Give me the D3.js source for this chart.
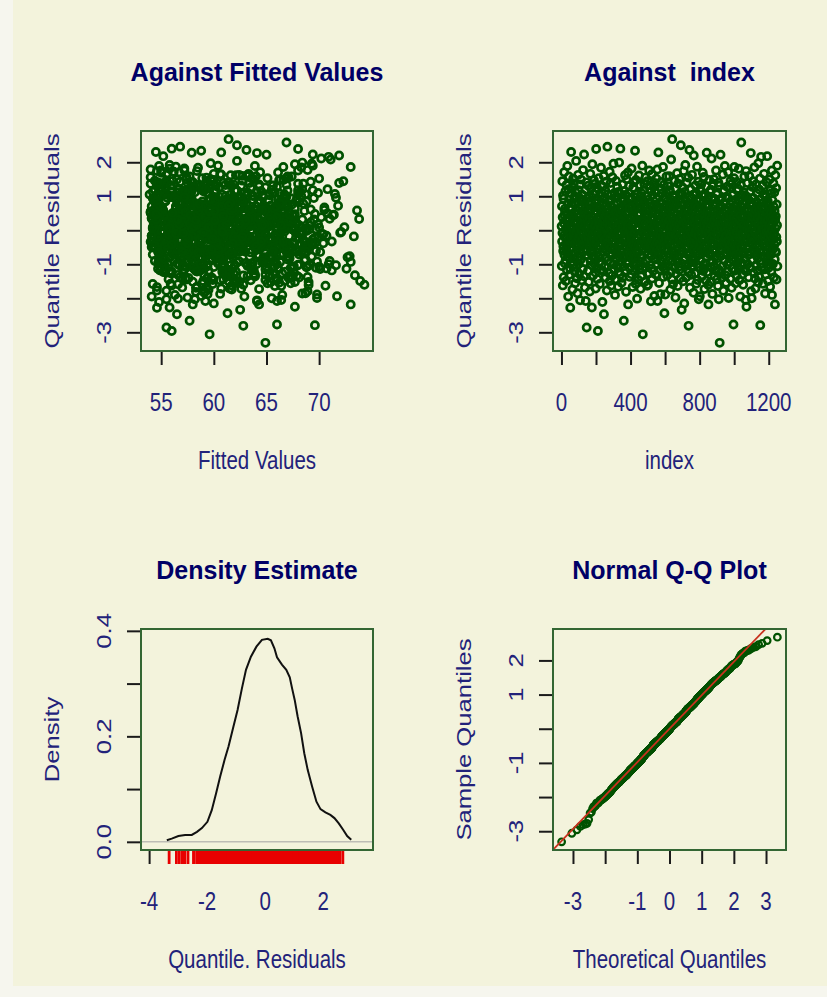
<!DOCTYPE html>
<html>
<head>
<meta charset="utf-8">
<script src="https://cdn.jsdelivr.net/npm/d3@7"></script>
<style>
  html, body { margin: 0; padding: 0; background: #f6f6ee; }
  svg { display: block; }
  text { font-family: "Liberation Sans", Arial, sans-serif; white-space: pre; }
</style>
</head>
<body>
<div id="chart"></div>
<script>
// quantile residuals in index order (10 per row)
var quantileResiduals = [
  0.12, -1.05, 0.71, -0.33, 1.44, -0.08, 0.38, -1.62, 1.02, -0.61,
  -0.47, 0.93, -1.38, 0.21, -0.15, 1.71, -0.72, 0.44, -0.97, 0.63,
  0.55, -0.21, 1.15, -0.88, 0.03, -1.49, 0.29, -0.56, 1.33, -0.39,
  -1.17, 0.47, -0.02, 1.89, -0.66, 0.17, -0.43, 0.79, -1.95, 1.21,
  0.33, -0.79, 1.58, -0.27, 0.09, -1.31, 0.68, -0.12, 0.91, -1.12,
  -2.28, 0.61, -0.36, 1.09, -0.94, 2.30, 0.14, -0.19, 0.42, -0.71,
  0.81, -0.52, 0.06, -1.74, 1.26, -0.29, 0.35, 1.52, -1.01, -0.09,
  -0.18, 1.38, -0.84, 0.50, -0.41, 0.98, -1.22, 0.22, -1.56, 0.76,
  1.12, -0.64, 0.27, -0.05, 2.04, -1.09, 0.58, -0.46, -1.41, 0.19,
  -0.31, 0.02, -1.85, 0.83, -0.77, 0.49, 1.63, -0.23, 1.18, -0.99,
  0.66, -1.28, 0.40, -0.14, 0.95, -0.58, 1.35, -2.06, 0.08, -0.37,
  -0.87, 0.24, 1.49, -0.69, -0.03, 0.72, -1.47, 0.31, -0.26, 1.05,
  0.17, -0.42, 0.89, -1.14, 1.77, -0.11, 0.53, -0.62, 0.36, -1.35,
  2.23, -0.95, 0.11, -0.35, 0.64, -1.68, 0.46, -0.20, 1.19, -0.55,
  -2.08, 0.70, -0.30, 1.41, 0.05, -2.86, 0.93, -0.60, 0.26, -0.16,
  -0.73, 0.44, -1.19, 0.13, 1.31, -0.24, 0.85, -1.52, 0.59, -0.40,
  0.98, -0.07, 0.34, -1.80, 0.75, -0.48, 1.66, -0.90, 0.20, -0.67,
  0.04, 1.22, -0.34, 0.62, -1.03, -2.27, 0.39, -0.13, 1.94, -0.76,
  -0.57, 0.28, -1.33, 1.07, -0.22, 0.67, -0.44, 1.47, 0.10, -0.98,
  1.36, -0.81, 0.15, -0.04, 0.48, -1.24, 0.80, -1.71, -0.38, 1.14,
  2.39, -0.32, 0.57, -1.10, 0.01, -0.65, 1.24, -1.43, 0.37, -0.17,
  -2.96, 0.88, -0.09, 0.30, -0.78, 1.53, -0.45, 0.18, -0.92, 0.66,
  0.43, -1.58, 0.74, -0.25, 1.01, -0.70, 0.07, -1.16, 1.84, -0.10,
  -0.39, 1.11, -0.99, 0.60, -0.14, 0.23, -2.11, 0.50, 1.29, -0.63,
  0.79, -0.20, 0.32, -1.21, 1.60, -2.47, 0.09, -0.53, 0.96, -0.28,
  -1.07, 0.14, -0.46, 1.17, -1.39, 0.41, 0.71, -0.01, 1.43, -0.80,
  -0.60, 0.52, -1.77, 0.20, -0.06, 2.46, -0.36, 1.06, -0.89, 0.34,
  0.63, -0.15, 0.86, -0.43, 0.31, -1.26, 0.12, -0.68, 1.72, -1.49,
  -0.24, 0.45, -0.94, 1.39, -0.51, 0.03, 0.69, -1.62, 1.03, -0.74,
  0.90, -1.34, 0.22, -0.71, 1.56, -0.31, 0.39, -0.12, 0.59, -1.00,
  1.96, -0.58, 0.16, -1.13, 0.77, -0.40, 1.10, -0.02, 0.47, -1.90,
  -0.35, 0.29, -1.44, 0.54, -0.19, 1.45, -0.85, 0.06, 0.99, -0.59,
  0.11, -0.69, 1.28, -0.27, 0.82, -1.08, 0.36, -1.66, -0.05, 1.13,
  -1.23, 0.61, -0.10, 1.99, -0.47, 0.19, -0.79, 0.42, 1.08, -1.30,
  2.40, -0.13, 0.49, -0.93, 0.25, -0.37, 0.94, -1.54, 0.66, -0.64,
  0.58, -1.40, 0.07, -0.55, 1.35, -0.21, 0.32, -1.06, 0.85, -0.30,
  -2.66, 0.40, -0.82, 1.16, -0.04, 0.73, -0.48, 1.62, 0.15, -1.18,
  0.26, -0.26, 1.04, -1.81, 0.53, -0.12, 1.50, -0.66, -0.96, 0.09,
  -0.90, 0.18, -0.39, 0.81, 1.70, -2.18, 0.48, -0.07, 1.10, -0.62,
  1.30, -0.45, 0.64, -1.11, 0.00, -1.37, 0.29, -0.75, 0.92, -0.18,
  -0.54, 0.96, -0.16, 0.35, -1.29, 1.82, -0.33, 0.13, 0.56, -0.86,
  0.70, -1.67, 0.21, -0.42, 1.25, -0.11, 0.44, -0.73, 1.41, -1.02,
  -0.08, 0.37, -1.20, 0.60, -0.50, 2.34, -0.84, 0.20, 0.97, -1.58,
  1.48, -0.29, 0.05, -0.95, 0.76, -0.60, 0.30, -2.01, 1.07, -0.19,
  -0.67, 0.67, -0.23, 0.51, -1.46, 0.10, -0.41, 0.87, 1.61, -1.15,
  0.23, -1.04, 0.45, -0.14, 1.33, -0.47, 0.80, -1.72, 1.01, -0.71,
  -1.36, 0.62, -0.33, 1.09, -0.04, 0.27, -0.80, 1.90, -1.13, 0.16,
  -3.06, 0.34, 1.17, -0.56, 0.08, -0.97, 0.73, -0.20, 1.37, -0.38,
  0.84, -0.12, -1.51, 0.41, -0.63, 1.55, 0.19, -0.44, -1.09, 0.65,
  -0.21, 1.00, -0.88, 0.14, 0.57, -1.63, 1.44, -0.31, 0.38, -0.52,
  -1.60, 0.47, -0.09, 0.90, -0.69, 0.22, -1.27, 1.76, -0.34, 0.60,
  0.12, -0.45, 1.32, -1.03, 0.78, -0.17, 0.31, -2.09, 1.15, -0.77,
  -1.12, 0.55, -0.27, 1.65, -1.42, 0.06, 1.04, -0.61, 0.33, -0.01,
  0.38, -1.19, 0.70, -0.06, 1.27, -0.49, 0.18, -1.93, 1.39, -0.65,
  -0.44, 1.14, 0.02, -0.86, 0.51, -1.30, -0.15, 0.75, 1.52, -0.57,
  0.91, -0.37, 0.26, -0.99, 1.79, -2.08, 0.63, -0.10, 0.13, -0.72,
  2.29, -0.25, -0.74, 0.43, -1.55, 0.99, 0.07, -0.40, 0.68, -1.16,
  -0.13, 0.82, -1.88, 0.29, -0.53, 1.42, -0.92, 0.16, 1.21, -0.32,
  0.54, -0.68, 1.08, -0.18, 0.36, -1.08, -0.46, 1.86, 0.01, -1.37,
  -0.79, 0.20, 1.34, -0.35, 0.95, -2.44, 0.49, -1.14, 0.71, -0.07,
  -1.89, 0.59, -0.22, 0.32, -0.99, 1.12, -0.43, 1.58, 0.11, -0.60,
  0.44, -1.33, 0.85, -0.55, 0.17, -0.14, 1.30, -0.89, 0.64, -0.37,
  -1.05, 0.28, -0.30, 1.59, -0.70, 0.74, -0.02, 1.18, 0.05, -1.75,
  0.68, -0.48, 0.10, -1.22, 2.08, -0.19, 0.40, -0.64, 0.89, -1.45,
  2.68, -0.91, 0.35, -0.08, 0.61, -1.59, 1.02, -0.41, 0.14, -0.66,
  -0.28, 0.08, 0.97, -0.76, 1.46, -1.10, 0.70, -0.16, 0.30, -1.98,
  1.23, -0.58, 0.21, -1.28, 0.47, -0.36, 0.79, -0.05, 1.68, -0.94,
  -0.46, 0.65, -1.64, 0.04, -0.83, 1.37, 0.37, -0.22, 0.92, -1.07,
  0.19, -1.17, 1.51, -0.29, 0.57, -0.71, 1.09, -1.41, 0.33, -0.11,
  2.50, -0.40, 0.82, -0.98, 0.12, -2.34, 0.42, -0.13, 1.06, -0.59,
  -0.63, 1.26, -0.04, 0.39, -1.50, 0.24, -0.34, 1.74, -0.87, 0.77,
  -2.15, 0.62, -0.24, 1.13, 0.02, -0.80, 1.92, -0.49, 0.29, -1.01,
  0.87, -1.39, 0.15, -0.54, 1.40, -0.08, 0.46, -1.15, 0.66, -0.31,
  -0.18, 0.34, -0.73, 1.55, 0.58, -2.81, -1.24, 0.09, 0.99, -0.39,
  2.36, -0.66, 0.17, -1.69, 0.73, -0.06, 0.41, -0.95, 1.20, -0.33,
  -1.31, 0.95, -0.42, 0.27, -0.12, 1.63, -0.77, 0.06, 0.60, -1.04,
  0.48, -0.89, 1.05, -0.21, -1.84, 2.20, -0.57, 0.22, 0.81, -0.36,
  -0.09, 0.72, -1.27, 0.39, -0.47, 1.32, 0.00, -0.69, 1.11, -1.57,
  0.30, -0.32, 0.90, -1.00, 1.87, -0.61, 0.13, -1.46, 0.67, -0.15,
  -0.74, 1.43, -0.17, 0.56, -2.03, 0.08, -0.44, 0.86, 0.35, -1.09,
  -1.94, 0.26, 1.21, -0.38, 0.64, -0.90, 0.11, -0.11, 1.35, -0.58,
  0.61, -0.07, -1.36, 0.44, -0.68, 1.00, -0.29, 1.69, 0.18, -1.20,
  -0.51, 0.14, 0.83, -1.13, 1.57, -0.23, 0.38, -1.73, 1.07, -0.62,
  1.02, -0.97, 0.32, -0.03, -0.45, 0.69, -1.48, 1.29, 0.20, -0.79,
  2.28, -0.35, 0.53, -1.23, 0.10, -0.60, 0.93, -0.19, 0.28, -1.61,
  -2.18, 0.76, -0.13, 0.42, -0.70, 1.48, -0.30, 0.03, 1.13, -0.95,
  0.07, -1.52, 0.59, -0.27, 1.19, -0.72, 0.35, -1.10, 2.11, -0.05,
  -0.40, 0.96, -0.02, -1.87, 0.48, -0.92, 1.37, 0.21, 0.74, -0.56,
  0.73, -0.14, 1.50, -1.05, 0.31, -0.41, -1.35, 0.92, 0.05, -0.78,
  -1.18, 0.40, -0.64, 0.16, 1.76, -0.08, 0.80, -0.33, 1.05, -1.44,
  0.35, -0.12, 1.10, -0.82, 0.57, -1.64, 0.00, -0.47, 1.40, -1.15,
  -2.03, 0.46, -0.37, 1.31, 0.19, -3.31, 0.88, -0.61, -0.04, 0.64,
  2.22, -0.76, 0.09, -1.25, 0.70, -0.20, 0.43, -1.40, 0.95, -0.42,
  -0.55, 0.22, -1.06, 1.64, -0.10, 0.51, -1.78, 1.15, -0.31, 0.80,
  1.18, -0.43, 0.29, -0.89, 0.02, 1.89, -0.23, 0.62, -1.32, -0.65,
  -0.16, 0.55, -1.54, 0.37, -0.71, 0.98, -0.39, 0.13, 1.28, -1.01,
  0.66, -1.21, 0.04, -0.30, 1.71, -0.59, 0.94, -1.99, 0.33, -0.07,
  -0.93, 0.18, 1.25, -0.48, 0.45, -0.17, 0.76, -1.43, 1.46, -0.74,
  0.27, -0.63, 0.87, -0.03, -1.69, 1.36, -0.35, 0.58, -1.12, 0.10,
  -0.29, 1.03, 0.15, -0.86, 0.61, -2.77, 0.39, -0.13, 1.53, -0.68,
  1.86, -0.44, 0.08, -1.19, 0.50, -0.24, 0.69, -1.56, 0.90, -0.57,
  -0.70, 0.34, -0.05, 1.42, -1.34, 0.20, -0.40, 0.78, 1.16, -0.94,
  0.60, -1.08, 1.22, -0.18, 0.12, -0.79, 1.81, -0.36, 0.30, -1.47,
  -0.22, 0.86, -0.60, 0.03, -1.95, 0.44, 1.33, -0.46, 0.71, -1.03,
  2.58, -0.51, 0.24, -0.96, 0.66, -0.09, 0.36, -1.29, 1.04, -0.70,
  0.13, -1.60, 0.79, -0.32, 1.12, -0.62, 0.41, -1.16, 1.58, -0.04,
  -0.84, 0.57, -0.14, 1.01, -0.37, 0.28, -2.05, 0.09, 1.74, -1.21,
  -2.25, 0.31, 0.99, -0.55, 0.05, -0.27, 1.39, -0.99, 0.64, -0.12,
  0.42, -0.73, 0.18, -1.38, 0.89, -0.02, 1.60, -0.47, 0.75, -1.07,
  -0.35, 1.14, -1.11, 0.21, -0.64, 2.27, 0.55, -1.79, 0.34, -0.19,
  -2.00, 0.74, -0.20, 0.40, -0.88, 1.27, 0.02, -0.43, 1.44, -0.58,
  0.95, -0.31, 0.11, -1.26, 0.49, -0.69, 1.85, -0.07, 0.63, -1.42,
  -0.06, 0.60, -1.71, 0.26, -0.40, 1.35, -1.02, 0.17, 0.84, -0.75,
  1.09, -0.30, 0.36, -0.16, 0.70, -1.18, -0.82, -1.53, 0.07, 1.97,
  0.20, -1.36, 0.58, -0.45, 1.20, -0.10, 0.43, -0.91, 1.52, -0.66,
  -2.79, 0.32, -0.57, 0.91, -0.03, 2.16, -1.09, 0.14, -0.34, 0.69,
  -0.98, 0.46, 0.04, -0.28, 1.31, -1.57, 0.80, -0.61, 1.06, -0.15,
  0.62, -0.18, 1.66, -0.79, 0.23, -1.15, 0.37, -0.39, -1.86, 1.00,
  -0.47, 0.98, -1.30, 0.09, -0.67, 0.51, -0.05, 1.41, 0.77, -0.93,
  2.18, -0.84, 0.28, -0.23, 0.85, -1.49, 0.65, -0.36, 0.01, -1.10,
  0.16, -1.01, 0.72, -0.48, 1.49, -0.11, 0.38, -1.66, 1.17, -0.63,
  -0.38, 0.53, -0.71, 1.08, -1.22, 0.11, -0.01, 1.76, -1.90, 0.34,
  0.88, -0.26, 0.19, -0.99, 0.44, -0.55, 1.38, -0.14, 0.69, -1.39,
  -0.09, 1.11, -0.42, 0.57, -0.85, -2.18, 0.30, 1.62, 0.06, -0.62,
  0.41, -0.65, 1.24, -0.20, -1.45, 0.76, -0.33, 0.15, 1.90, -1.06
];

// fitted values, same order as the residuals
var fittedValues = [
  57.1, 63.2, 66.2, 66.4, 59.3, 61.0, 70.2, 56.0, 64.6, 58.1,
  60.9, 54.4, 67.5, 58.0, 62.7, 64.4, 64.1, 71.3, 57.0, 59.8,
  65.1, 68.1, 59.0, 54.8, 69.1, 62.1, 55.9, 58.4, 61.5, 66.9,
  55.4, 61.3, 68.8, 63.9, 57.6, 59.6, 65.3, 67.0, 62.9, 56.6,
  62.4, 58.6, 67.4, 60.5, 72.4, 64.9, 56.4, 54.6, 66.1, 59.1,
  54.6, 69.2, 63.0, 59.5, 65.8, 54.5, 60.3, 69.9, 58.2, 56.1,
  59.9, 66.7, 56.8, 61.7, 64.9, 68.5, 57.8, 63.6, 55.3, 62.0,
  64.3, 55.1, 58.9, 70.8, 57.2, 62.6, 66.8, 60.7, 67.3, 58.3,
  65.8, 60.1, 65.4, 54.3, 62.2, 58.5, 73.6, 55.8, 66.0, 61.2,
  61.6, 57.5, 68.7, 68.1, 63.4, 59.2, 55.5, 64.8, 69.4, 56.7,
  58.4, 63.8, 56.3, 61.1, 54.7, 67.8, 59.7, 64.1, 70.0, 62.8,
  55.2, 59.4, 66.3, 57.9, 62.5, 71.8, 60.6, 67.0, 64.2, 53.9,
  63.0, 56.1, 60.0, 70.1, 68.9, 57.4, 65.0, 61.2, 58.8, 67.2,
  69.4, 58.2, 55.0, 62.3, 64.7, 57.0, 60.4, 66.5, 65.5, 59.3,
  59.2, 64.0, 57.6, 61.4, 54.2, 55.5, 67.9, 62.8, 66.5, 70.7,
  56.6, 62.9, 58.7, 63.9, 65.6, 60.8, 55.4, 69.0, 57.3, 63.7,
  61.8, 68.4, 66.8, 59.1, 57.7, 54.4, 63.3, 71.0, 60.2, 56.2,
  64.5, 57.9, 54.0, 60.9, 68.0, 55.8, 62.4, 59.5, 67.7, 72.9,
  57.2, 60.3, 63.9, 55.3, 69.6, 58.6, 64.7, 66.2, 61.6, 56.5,
  54.9, 65.3, 59.8, 62.0, 69.6, 67.6, 57.5, 60.7, 70.4, 55.9,
  68.0, 56.3, 61.2, 58.0, 54.3, 63.5, 59.6, 65.9, 66.0, 62.6,
  56.0, 62.1, 57.8, 66.6, 60.5, 65.1, 64.4, 59.0, 69.8, 57.0,
  60.0, 54.2, 63.1, 57.4, 68.3, 67.2, 61.5, 65.2, 58.5, 56.7,
  63.6, 59.3, 55.1, 70.5, 57.6, 61.9, 54.8, 66.0, 64.3, 58.9,
  58.3, 64.6, 60.6, 55.4, 62.7, 56.5, 67.4, 68.9, 71.6, 59.7,
  65.0, 61.0, 66.9, 57.3, 59.4, 63.8, 54.1, 58.1, 69.2, 56.9,
  62.5, 57.9, 54.6, 65.7, 60.1, 56.8, 58.7, 66.7, 68.6, 63.0,
  59.0, 55.9, 62.9, 69.0, 67.1, 61.4, 57.2, 64.9, 56.2, 73.9,
  54.7, 60.7, 58.2, 63.4, 56.6, 69.7, 64.6, 61.7, 65.3, 57.7,
  61.2, 67.9, 64.1, 59.9, 54.0, 57.5, 66.4, 62.2, 55.2, 70.9,
  69.3, 58.8, 55.6, 61.8, 57.0, 63.9, 65.6, 60.2, 67.7, 56.3,
  57.4, 65.5, 60.9, 54.3, 62.6, 56.1, 59.2, 68.8, 66.9, 64.0,
  63.2, 54.8, 57.9, 59.5, 66.2, 55.0, 61.3, 58.4, 72.1, 68.2,
  55.3, 62.0, 56.5, 68.4, 58.6, 60.4, 64.8, 65.2, 57.1, 61.1,
  56.0, 60.8, 63.7, 66.3, 58.1, 67.0, 54.2, 62.4, 59.6, 70.1,
  60.3, 57.6, 54.5, 64.3, 61.9, 55.9, 69.5, 67.6, 58.9, 65.9,
  57.7, 63.4, 59.8, 55.1, 66.7, 60.6, 64.5, 62.1, 56.3, 71.2,
  64.7, 69.4, 61.5, 58.3, 54.0, 68.2, 57.4, 59.1, 63.0, 55.7,
  54.4, 59.7, 65.1, 61.0, 66.1, 58.0, 62.8, 55.2, 69.9, 57.3,
  61.7, 55.5, 58.6, 67.3, 63.6, 56.8, 65.4, 60.0, 57.9, 73.3,
  56.0, 62.3, 54.1, 59.4, 65.8, 57.2, 61.1, 64.2, 67.1, 68.7,
  58.7, 54.6, 63.1, 64.8, 60.5, 70.3, 55.0, 66.3, 57.8, 62.0,
  62.9, 57.0, 55.8, 64.5, 68.6, 58.8, 60.9, 67.8, 56.1, 59.9,
  66.6, 60.2, 67.6, 57.5, 62.4, 54.8, 59.0, 56.6, 71.5, 63.8,
  59.6, 65.9, 61.6, 54.0, 64.9, 57.7, 69.0, 55.4, 63.3, 58.2,
  57.3, 63.5, 55.9, 60.7, 58.4, 66.1, 64.2, 62.6, 56.8, 68.1,
  63.9, 58.9, 54.2, 57.1, 61.3, 67.3, 65.6, 60.4, 72.6, 56.4,
  59.6, 55.3, 62.2, 66.8, 57.6, 54.7, 61.0, 64.4, 68.0, 69.3,
  56.9, 61.8, 58.0, 66.4, 63.0, 59.3, 67.9, 55.6, 60.8, 65.0,
  54.8, 57.8, 64.6, 62.5, 65.7, 70.6, 59.8, 55.1, 58.5, 61.4,
  74.3, 60.1, 67.8, 63.7, 55.0, 58.6, 66.5, 57.2, 61.7, 54.3,
  61.5, 66.0, 59.2, 56.7, 68.5, 62.9, 55.8, 64.1, 57.9, 60.4,
  58.1, 65.2, 54.6, 60.6, 57.0, 64.9, 63.2, 69.7, 62.0, 56.3,
  55.5, 59.5, 62.6, 57.4, 66.0, 54.1, 60.9, 58.8, 71.9, 68.3,
  62.7, 56.0, 58.3, 64.7, 55.2, 61.2, 57.5, 67.4, 66.9, 59.7,
  57.6, 63.1, 65.3, 59.0, 54.0, 66.0, 61.6, 56.8, 69.1, 60.3,
  60.7, 54.8, 64.3, 67.5, 62.1, 55.9, 58.7, 68.3, 56.4, 63.6,
  56.1, 61.9, 59.4, 55.0, 67.2, 58.0, 65.0, 63.0, 70.8, 57.3,
  63.4, 57.7, 54.7, 61.3, 59.1, 65.7, 56.5, 66.6, 60.0, 68.9,
  55.8, 59.9, 66.9, 54.2, 57.5, 61.3, 63.9, 58.4, 64.0, 72.0,
  69.8, 56.7, 60.6, 62.4, 55.1, 58.2, 64.9, 67.0, 61.1, 57.0,
  58.5, 62.8, 68.8, 57.2, 65.3, 54.3, 60.2, 56.9, 67.7, 61.8,
  61.0, 55.6, 58.9, 64.0, 65.9, 62.3, 54.6, 68.0, 57.8, 59.5,
  64.6, 60.5, 63.3, 56.0, 71.1, 57.9, 59.2, 55.5, 66.4, 62.0,
  61.4, 57.4, 54.1, 65.5, 59.7, 56.6, 63.7, 69.4, 66.3, 58.1,
  68.5, 64.2, 60.0, 55.9, 62.7, 58.7, 67.0, 54.7, 61.6, 57.5,
  59.3, 67.2, 57.1, 61.9, 56.1, 68.6, 63.1, 58.3, 55.6, 65.1,
  62.6, 58.9, 65.8, 67.5, 60.3, 54.0, 57.7, 64.6, 56.4, 70.0,
  64.4, 61.2, 63.8, 54.8, 58.6, 56.2, 66.2, 59.4, 73.8, 55.7,
  62.2, 55.0, 58.0, 60.8, 56.9, 62.5, 66.8, 65.8, 57.3, 68.1,
  67.9, 63.5, 59.6, 57.6, 61.4, 69.2, 56.0, 54.6, 64.8, 58.8,
  60.0, 65.2, 62.9, 54.2, 66.6, 57.9, 55.8, 61.7, 59.0, 63.2,
  64.4, 59.8, 68.1, 56.3, 60.9, 58.5, 71.4, 57.2, 55.1, 62.1,
  58.2, 66.2, 61.1, 67.1, 54.5, 62.8, 57.1, 60.4, 56.7, 69.6,
  63.1, 57.8, 54.7, 59.3, 65.4, 64.8, 61.5, 55.6, 68.4, 58.6,
  56.6, 60.1, 64.5, 55.2, 58.0, 62.4, 69.3, 66.9, 57.4, 61.0,
  61.6, 54.8, 57.6, 63.3, 59.1, 71.9, 56.3, 65.0, 66.5, 60.5,
  59.4, 62.6, 56.0, 54.4, 67.3, 65.6, 60.7, 58.4, 64.1, 55.9,
  67.6, 58.8, 61.8, 66.0, 56.4, 55.1, 63.6, 59.9, 70.5, 57.7,
  60.6, 56.8, 66.0, 62.0, 58.2, 64.7, 54.2, 61.3, 57.0, 68.8,
  71.7, 55.7, 59.0, 57.5, 63.0, 54.9, 60.2, 66.3, 64.3, 62.7,
  57.9, 61.9, 67.4, 65.2, 59.6, 56.7, 62.3, 55.0, 69.9, 58.3,
  62.5, 65.1, 60.3, 54.7, 57.4, 67.8, 59.2, 64.3, 55.5, 61.1,
  55.8, 63.7, 68.4, 59.8, 61.5, 54.5, 66.8, 58.1, 56.5, 72.7,
  57.9, 60.4, 65.9, 55.2, 62.8, 58.9, 66.7, 63.4, 56.3, 69.0,
  64.3, 54.8, 58.5, 61.2, 56.9, 60.0, 65.4, 67.4, 57.3, 62.2,
  59.1, 67.7, 63.9, 55.9, 54.4, 61.7, 58.0, 66.1, 70.2, 56.6,
  56.2, 62.0, 55.0, 60.6, 64.0, 57.6, 68.5, 66.1, 59.4, 61.4,
  61.3, 64.5, 59.7, 57.1, 54.2, 65.6, 63.2, 56.4, 58.6, 67.0,
  54.9, 58.3, 62.4, 66.5, 68.0, 59.9, 57.8, 71.2, 60.8, 55.7,
  63.6, 56.8, 55.3, 58.8, 61.9, 66.4, 67.6, 60.1, 57.5, 64.9,
  55.5, 60.9, 57.4, 62.6, 54.7, 64.9, 59.5, 65.7, 68.2, 58.4,
  65.0, 57.7, 61.6, 55.8, 59.2, 63.0, 54.3, 67.1, 69.5, 60.4,
  58.0, 62.9, 68.9, 60.7, 56.9, 66.7, 55.5, 64.5, 57.3, 61.0,
  60.2, 66.2, 63.5, 57.9, 62.1, 54.8, 59.3, 56.4, 73.4, 65.7,
  56.4, 59.6, 66.2, 54.1, 61.5, 64.7, 63.8, 55.9, 58.7, 68.0,
  62.3, 58.4, 55.6, 64.2, 56.7, 60.5, 67.3, 69.8, 57.6, 59.1,
  55.0, 61.2, 58.1, 57.3, 67.2, 63.1, 66.9, 59.9, 54.4, 65.3,
  59.5, 54.7, 62.7, 65.5, 58.3, 55.3, 64.0, 61.6, 70.7, 57.1,
  61.9, 56.3, 57.8, 67.0, 63.4, 66.0, 60.3, 55.7, 58.9, 68.6,
  73.0, 58.6, 68.2, 61.4, 57.0, 62.5, 54.9, 65.1, 59.7, 56.5,
  57.5, 63.3, 60.8, 55.4, 59.1, 54.3, 67.1, 66.5, 62.0, 64.6,
  64.9, 60.0, 56.7, 65.8, 58.2, 61.8, 55.8, 69.3, 57.4, 63.5,
  63.0, 67.8, 59.4, 57.1, 54.1, 64.7, 61.1, 58.5, 56.4, 71.6,
  66.9, 65.6, 62.4, 55.1, 60.6, 56.0, 58.0, 63.9, 54.6, 59.8,
  58.8, 62.8, 66.3, 59.9, 56.6, 68.7, 55.5, 61.3, 57.7, 64.4,
  61.5, 68.6, 57.9, 63.7, 55.0, 60.1, 66.4, 54.2, 58.4, 62.1,
  67.7, 54.5, 60.5, 66.0, 62.6, 58.6, 55.6, 64.1, 57.2, 70.4,
  56.1, 59.3, 64.8, 61.7, 65.2, 57.5, 63.1, 55.3, 60.7, 67.5,
  60.3, 57.0, 67.4, 62.9, 58.7, 64.1, 54.0, 68.9, 56.5, 61.9,
  65.5, 61.0, 54.7, 57.8, 59.6, 55.4, 62.2, 66.8, 72.3, 58.1,
  55.6, 63.6, 58.3, 60.9, 56.3, 66.6, 68.3, 59.4, 61.8, 57.3,
  59.0, 65.8, 61.5, 57.6, 64.3, 54.6, 69.1, 56.7, 62.7, 60.2,
  62.9, 58.0, 56.0, 54.1, 60.5, 63.8, 67.2, 65.4, 55.8, 59.7,
  57.7, 61.2, 64.6, 66.9, 59.2, 56.4, 55.3, 62.4, 70.0, 58.5,
  69.6, 56.6, 59.8, 54.3, 62.0, 70.9, 57.4, 64.6, 66.6, 60.7,
  60.4, 54.5, 57.9, 63.4, 55.9, 58.9, 61.6, 67.8, 68.7, 65.0,
  56.9, 62.3, 60.0, 55.1, 58.2, 66.1, 64.2, 57.5, 68.4, 61.1,
  63.9, 57.2, 65.3, 59.5, 61.7, 56.1, 66.3, 54.7, 58.6, 73.0,
  55.2, 60.6, 63.0, 57.6, 54.4, 59.0, 65.7, 67.5, 62.1, 69.7,
  58.4, 55.7, 61.4, 64.0, 56.5, 62.8, 66.0, 59.3, 67.0, 57.0,
  61.8, 57.3, 54.2, 68.0, 60.8, 58.1, 63.5, 55.0, 66.5, 71.0,
  54.6, 59.9, 62.5, 58.7, 57.8, 55.6, 60.3, 64.9, 65.9, 68.1,
  57.1, 63.2, 56.0, 60.1, 55.3, 73.0, 58.3, 61.6, 67.1, 65.6,
  60.9, 54.8, 58.9, 62.7, 57.4, 56.7, 64.5, 66.4, 69.4, 59.4
];

// density estimate curve
var densityX = [-3.39, -3.22, -2.99, -2.76, -2.53, -2.35, -2.18, -1.99, -1.84, -1.69,
  -1.55, -1.40, -1.26, -1.09, -0.95, -0.80, -0.66, -0.49, -0.30, -0.11,
  0.09, 0.20, 0.32, 0.41, 0.58, 0.73, 0.85, 0.93, 1.02, 1.12,
  1.24, 1.35, 1.47, 1.62, 1.77, 1.91, 2.08, 2.25, 2.39, 2.54,
  2.69, 2.83, 2.97];
var densityY = [0.003, 0.006, 0.011, 0.013, 0.013, 0.019, 0.026, 0.038, 0.060, 0.092,
  0.124, 0.155, 0.181, 0.219, 0.250, 0.291, 0.326, 0.351, 0.370, 0.383,
  0.385, 0.382, 0.367, 0.350, 0.336, 0.326, 0.312, 0.291, 0.269, 0.238,
  0.206, 0.168, 0.136, 0.105, 0.076, 0.062, 0.056, 0.051, 0.045, 0.035,
  0.023, 0.011, 0.004];

var fittedTicks = [55, 60, 65, 70];
var fittedTickLabels = ['55', '60', '65', '70'];
var indexTicks = [0, 200, 400, 600, 800, 1000, 1200];
var indexTickLabels = ['0', '', '400', '', '800', '', '1200'];
var residTicks = [-3, -2, -1, 0, 1, 2];
var residTickLabels = ['-3', '', '-1', '', '1', '2'];
var densXTicks = [-4, -2, 0, 2];
var densXTickLabels = ['-4', '-2', '0', '2'];
var densYTicks = [0, 0.1, 0.2, 0.3, 0.4];
var densYTickLabels = ['0.0', '', '0.2', '', '0.4'];
var theoTicks = [-3, -2, -1, 0, 1, 2, 3];
var theoTickLabels = ['-3', '', '-1', '0', '1', '2', '3'];

var titles = ['Against Fitted Values', 'Against  index', 'Density Estimate', 'Normal Q-Q Plot'];
var xTitles = ['Fitted Values', 'index', 'Quantile. Residuals', 'Theoretical Quantiles'];
var yTitles = ['Quantile Residuals', 'Quantile Residuals', 'Density', 'Sample Quantiles'];

var W = 827, H = 997;
var green = '#005200', boxCol = '#336633', txtCol = '#22227a', titleCol = '#000066';
var SY = 1.25; // the picture's text is stretched vertically

var svg = d3.select('#chart').append('svg').attr('width', W).attr('height', H);
svg.append('rect').attr('x', 13).attr('y', 0).attr('width', W - 13).attr('height', 986).attr('fill', '#f3f3dc');

var boxes = [
  { x: 141, y: 131, w: 232, h: 220 },
  { x: 553, y: 131, w: 233, h: 220 },
  { x: 141, y: 629, w: 232, h: 221 },
  { x: 553, y: 629, w: 233, h: 221 }
];

function rangeR(v) {
  var e = d3.extent(v), d = (e[1] - e[0]) * 0.04;
  return [e[0] - d, e[1] + d];
}

function hText(g, x, y, s, o) {
  o = o || {};
  g.append('text')
    .attr('transform', 'translate(' + x + ',' + y + ') scale(1,' + (o.sy || SY) + ')')
    .attr('text-anchor', 'middle')
    .attr('font-size', o.size || 20.5)
    .attr('font-weight', o.bold ? 'bold' : null)
    .attr('fill', o.col || txtCol)
    .text(s);
}

function vText(g, x, y, s) {
  g.append('text')
    .attr('transform', 'translate(' + x + ',' + y + ') rotate(-90) scale(' + SY + ',1)')
    .attr('text-anchor', 'middle')
    .attr('font-size', 20.5)
    .attr('fill', txtCol)
    .text(s);
}

// frame, ticks and labels of one panel; returns the group for the marks
function panel(i, x, y, o) {
  var b = boxes[i];
  var g = svg.append('g').attr('transform', 'translate(' + b.x + ',' + b.y + ')');
  var ax = g.append('g').attr('color', '#1a1a1a');
  ax.append('g').attr('transform', 'translate(0,' + b.h + ')')
    .call(d3.axisBottom(x).tickValues(o.xTicks).tickSize(14).tickFormat(''));
  ax.append('g')
    .call(d3.axisLeft(y).tickValues(o.yTicks).tickSize(14).tickFormat(''));
  ax.selectAll('.domain').remove();
  ax.selectAll('line').attr('stroke-width', 2);

  o.xTicks.forEach(function (t, k) {
    if (o.xLabels[k]) hText(g, x(t), b.h + 60, o.xLabels[k]);
  });
  o.yTicks.forEach(function (t, k) {
    if (o.yLabels[k]) vText(g, -30, y(t), o.yLabels[k]);
  });
  hText(g, b.w / 2, -50, titles[i], { size: 25, bold: true, col: titleCol, sy: 1.05 });
  hText(g, b.w / 2, b.h + 118, xTitles[i]);
  vText(g, -82, b.h / 2, yTitles[i]);

  g.append('clipPath').attr('id', 'clip' + i)
    .append('rect').attr('width', b.w).attr('height', b.h);
  var plot = g.append('g');
  g.append('rect').attr('width', b.w).attr('height', b.h)
    .attr('fill', 'none').attr('stroke', boxCol).attr('stroke-width', 2);
  return plot;
}

var n = Math.min(quantileResiduals.length, fittedValues.length);
var resid = quantileResiduals.slice(0, n);
var fitted = fittedValues.slice(0, n);
var index = d3.range(1, n + 1);

// 1. residuals against fitted values
var x1 = d3.scaleLinear().domain(rangeR(fitted)).range([0, boxes[0].w]);
var y1 = d3.scaleLinear().domain(rangeR(resid)).range([boxes[0].h, 0]);
var p1 = panel(0, x1, y1, { xTicks: fittedTicks, xLabels: fittedTickLabels, yTicks: residTicks, yLabels: residTickLabels });
p1.selectAll('circle').data(d3.range(n)).enter().append('circle')
  .attr('cx', function (d) { return x1(fitted[d]); })
  .attr('cy', function (d) { return y1(resid[d]); })
  .attr('r', 3.6)
  .attr('fill', 'none').attr('stroke', green).attr('stroke-width', 2.7);

// 2. residuals against index
var x2 = d3.scaleLinear().domain(rangeR(index)).range([0, boxes[1].w]);
var y2 = d3.scaleLinear().domain(rangeR(resid)).range([boxes[1].h, 0]);
var p2 = panel(1, x2, y2, { xTicks: indexTicks, xLabels: indexTickLabels, yTicks: residTicks, yLabels: residTickLabels });
p2.selectAll('circle').data(d3.range(n)).enter().append('circle')
  .attr('cx', function (d) { return x2(index[d]); })
  .attr('cy', function (d) { return y2(resid[d]); })
  .attr('r', 3.6)
  .attr('fill', 'none').attr('stroke', green).attr('stroke-width', 2.7);

// 3. density estimate with rug
var x3 = d3.scaleLinear().domain([-4.28, 3.72]).range([0, boxes[2].w]);
var y3 = d3.scaleLinear().domain([-0.0155, 0.4035]).range([boxes[2].h, 0]);
var p3 = panel(2, x3, y3, { xTicks: densXTicks, xLabels: densXTickLabels, yTicks: densYTicks, yLabels: densYTickLabels });
p3.append('line').attr('x1', 0).attr('x2', boxes[2].w)
  .attr('y1', y3(0)).attr('y2', y3(0))
  .attr('stroke', '#bdbdb5').attr('stroke-width', 1.5);
p3.append('path')
  .datum(d3.range(densityX.length))
  .attr('fill', 'none').attr('stroke', '#111').attr('stroke-width', 2)
  .attr('d', d3.line().x(function (d) { return x3(densityX[d]); }).y(function (d) { return y3(densityY[d]); }));
svg.append('g').attr('transform', 'translate(' + boxes[2].x + ',' + boxes[2].y + ')')
  .selectAll('line').data(resid).enter().append('line')
  .attr('x1', function (d) { return x3(d); }).attr('x2', function (d) { return x3(d); })
  .attr('y1', boxes[2].h + 1).attr('y2', boxes[2].h + 14)
  .attr('stroke', '#e80000').attr('stroke-width', 2.8);

// 4. normal Q-Q plot
function qnorm(p) {
  var a = [-3.969683028665376e+01, 2.209460984245205e+02, -2.759285104469687e+02, 1.383577518672690e+02, -3.066479806614716e+01, 2.506628277459239e+00];
  var b = [-5.447609879822406e+01, 1.615858368580409e+02, -1.556989798598866e+02, 6.680131188771972e+01, -1.328068155288572e+01];
  var c = [-7.784894002430293e-03, -3.223964580411365e-01, -2.400758277161838e+00, -2.549732539343734e+00, 4.374664141464968e+00, 2.938163982698783e+00];
  var d = [7.784695709041462e-03, 3.224671290700398e-01, 2.445134137142996e+00, 3.754408661907416e+00];
  var q, r;
  if (p < 0.02425) {
    q = Math.sqrt(-2 * Math.log(p));
    return (((((c[0] * q + c[1]) * q + c[2]) * q + c[3]) * q + c[4]) * q + c[5]) /
      ((((d[0] * q + d[1]) * q + d[2]) * q + d[3]) * q + 1);
  }
  if (p > 1 - 0.02425) return -qnorm(1 - p);
  q = p - 0.5; r = q * q;
  return (((((a[0] * r + a[1]) * r + a[2]) * r + a[3]) * r + a[4]) * r + a[5]) * q /
    (((((b[0] * r + b[1]) * r + b[2]) * r + b[3]) * r + b[4]) * r + 1);
}

var sorted = resid.slice().sort(d3.ascending);
var theo = sorted.map(function (v, k) { return qnorm((k + 0.5) / n); });
var x4 = d3.scaleLinear().domain(rangeR(theo)).range([0, boxes[3].w]);
var y4 = d3.scaleLinear().domain(rangeR(sorted)).range([boxes[3].h, 0]);
var p4 = panel(3, x4, y4, { xTicks: theoTicks, xLabels: theoTickLabels, yTicks: residTicks, yLabels: residTickLabels });
p4.selectAll('circle').data(d3.range(n)).enter().append('circle')
  .attr('cx', function (d) { return x4(theo[d]); })
  .attr('cy', function (d) { return y4(sorted[d]); })
  .attr('r', 3.3)
  .attr('fill', 'none').attr('stroke', green).attr('stroke-width', 2.2);

// reference line through the quartiles
var yq = [d3.quantile(sorted, 0.25), d3.quantile(sorted, 0.75)];
var xq = [qnorm(0.25), qnorm(0.75)];
var slope = (yq[1] - yq[0]) / (xq[1] - xq[0]);
var icpt = yq[0] - slope * xq[0];
var xd = x4.domain();
p4.append('line')
  .attr('clip-path', 'url(#clip3)')
  .attr('x1', x4(xd[0])).attr('y1', y4(icpt + slope * xd[0]))
  .attr('x2', x4(xd[1])).attr('y2', y4(icpt + slope * xd[1]))
  .attr('stroke', '#c8321e').attr('stroke-width', 1.8);
</script>
</body>
</html>
